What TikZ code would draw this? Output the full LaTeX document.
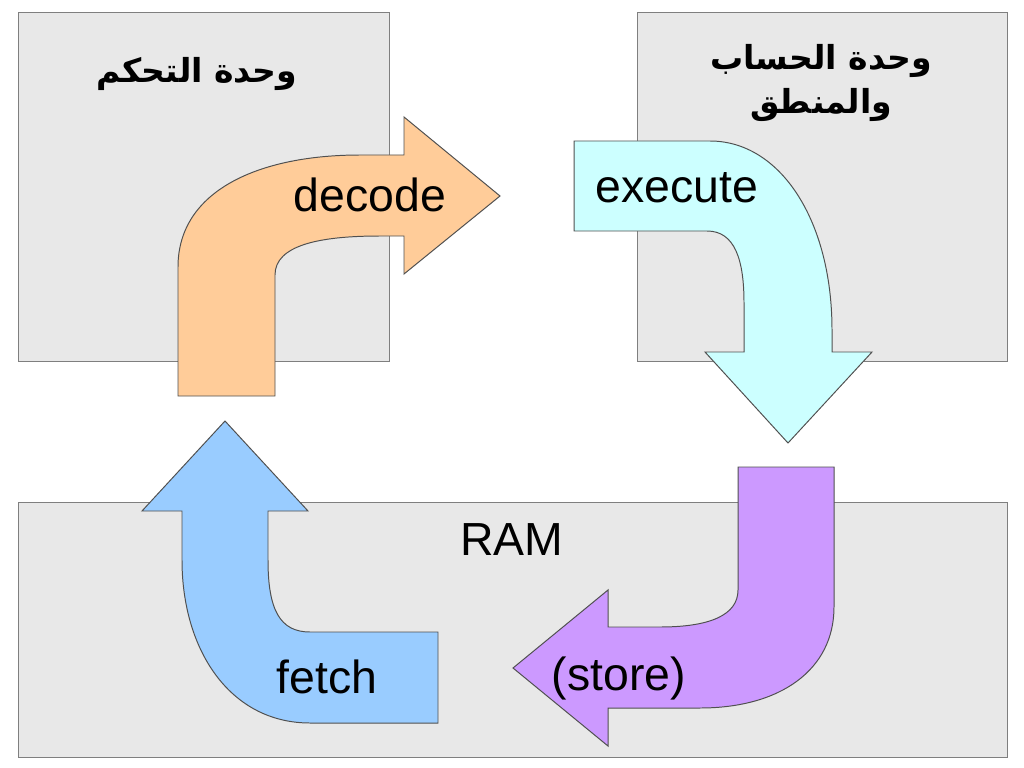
\documentclass[tikz,border=0pt]{standalone}
\usepackage{fontspec}
\setmainfont{Liberation Sans}
\newfontfamily\arabicfont[Script=Arabic]{DejaVu Sans}
\TeXXeTstate=1
\usetikzlibrary{positioning}
\definecolor{boxfill}{HTML}{E8E8E8}
\definecolor{boxedge}{HTML}{7F7F7F}
\definecolor{edgegray}{HTML}{505050}
\definecolor{decodecol}{HTML}{FFCC99}
\definecolor{executecol}{HTML}{CCFFFF}
\definecolor{storecol}{HTML}{CC99FF}
\definecolor{fetchcol}{HTML}{99CCFF}

\begin{document}
\begin{tikzpicture}[
  x=0.025cm, y=-0.025cm,
  unitbox/.style={draw=boxedge, fill=boxfill, line width=0.7pt},
  blockarrow/.style={draw=edgegray, line width=0.7pt, line join=miter},
  lbl/.style={anchor=base, inner sep=0pt, font=\fontsize{33}{36}\selectfont},
  ttl/.style={inner sep=0pt, align=center, font=\arabicfont\bfseries\fontsize{23.5}{31}\selectfont}
]
  \useasboundingbox (0,0) rectangle (1024,768);

  \draw[unitbox] (18,12) rectangle (389,361);
  \draw[unitbox] (637,12) rectangle (1007,361);
  \draw[unitbox] (18,502) rectangle (1007,757);

  \node[ttl] (cu) at (197,74) {\beginR وحدة التحكم\endR};
  \node[ttl] (alu) at (821,83) {\beginR وحدة الحساب\endR\\\beginR والمنطق\endR};
  \node[lbl] (ram) at (512,555) {RAM};

  \draw[blockarrow, fill=decodecol] (178,396) -- (178,267)
    .. controls (178,190) and (260,155) .. (360,155) -- (404,155) -- (404,117)
    -- (500,196) -- (404,274) -- (404,236) -- (380,236)
    .. controls (320,236) and (275,245) .. (275,275) -- (275,396) -- cycle;
  \draw[blockarrow, fill=executecol] (574,141) -- (710,141)
    .. controls (780,141) and (832,220) .. (832,330) -- (832,352) -- (872,352)
    -- (788,443) -- (705,352) -- (744,352) -- (744,303)
    .. controls (744,260) and (735,231) .. (707,231) -- (574,231) -- cycle;
  \draw[blockarrow, fill=storecol] (738,467) -- (834,467) -- (834,607)
    .. controls (834,670) and (780,708) .. (700,708) -- (608,708) -- (608,746)
    -- (513,668) -- (608,590) -- (608,627) -- (660,627)
    .. controls (710,627) and (738,615) .. (738,590) -- cycle;
  \draw[blockarrow, fill=fetchcol] (182,511) -- (142,511) -- (225,421)
    -- (308,511) -- (268,511) -- (268,560)
    .. controls (268,610) and (280,632) .. (310,632) -- (438,632) -- (438,723)
    -- (310,723) .. controls (230,723) and (182,650) .. (182,560) -- cycle;

  \node[lbl] (decode) at (370,211) {decode};
  \node[lbl] (execute) at (677,202) {execute};
  \node[lbl] (store) at (619,690) {(store)};
  \node[lbl] (fetch) at (327,693) {fetch};
\end{tikzpicture}
\end{document}
